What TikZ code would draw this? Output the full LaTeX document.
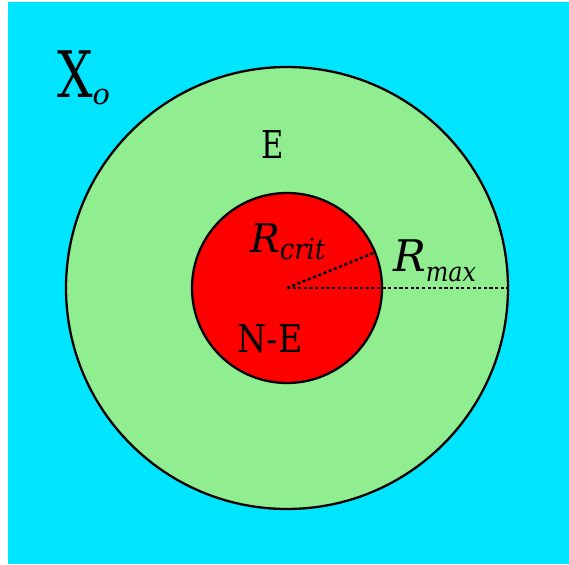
\documentclass[tikz,border=0pt]{standalone}
\usepackage{fontspec}
\setmainfont{DejaVu Serif}
\usepackage{xcolor}
\usepackage{tikz}
\usetikzlibrary{positioning}
\definecolor{bgCyan}{RGB}{0,229,255}
\definecolor{zoneGreen}{RGB}{144,238,144}
\definecolor{zoneRed}{RGB}{255,0,0}
\begin{document}
\begin{tikzpicture}[x=0.02cm, y=-0.02cm,
  zone/.style={draw=black, line width=1.3pt},
  radiusLine/.style={line width=1.4pt, dash pattern=on 1.8pt off 1.4pt},
  tag/.style={inner sep=0pt, outer sep=0pt, anchor=base west},
  zoneTag/.style={inner sep=0pt, outer sep=0pt, anchor=base, font=\fontsize{21.8}{22}\selectfont}
]
\useasboundingbox (0,0) rectangle (569,565);
\fill[bgCyan] (8,2) rectangle (569,564);
\coordinate (centre) at (287,288);
\filldraw[zone, fill=zoneGreen] (centre) circle[radius=221];
\filldraw[zone, fill=zoneRed] (centre) circle[radius=95];
\coordinate (critEdge) at ([shift={(-22:95)}]centre);
\coordinate (maxEdge) at ([shift={(0:221)}]centre);
\draw[radiusLine] (centre) -- (critEdge);
\draw[radiusLine] (centre) -- (maxEdge);
\node[tag] (xo) at (57,97) {\scalebox{0.78}[1]{\fontsize{36.5}{37}\selectfont X}\raisebox{-4.5pt}{\fontsize{16.4}{17}\selectfont\itshape o}};
\node[zoneTag] (tagE) at (273,158) {\scalebox{0.8}[1]{E}};
\node[zoneTag] (tagNE) at (270,352) {\scalebox{0.87}[1]{N-E}};
\node[tag] (rcrit) at (250,252) {\fontsize{22.5}{23}\selectfont\itshape R\raisebox{-4.5pt}{\scalebox{0.9}[1]{\fontsize{16.4}{17}\selectfont crit}}};
\node[tag] (rmax) at (393,271) {\fontsize{24.8}{25}\selectfont\itshape R\raisebox{-5.7pt}{\scalebox{0.88}[1]{\fontsize{15.4}{16}\selectfont max}}};
\end{tikzpicture}
\end{document}
